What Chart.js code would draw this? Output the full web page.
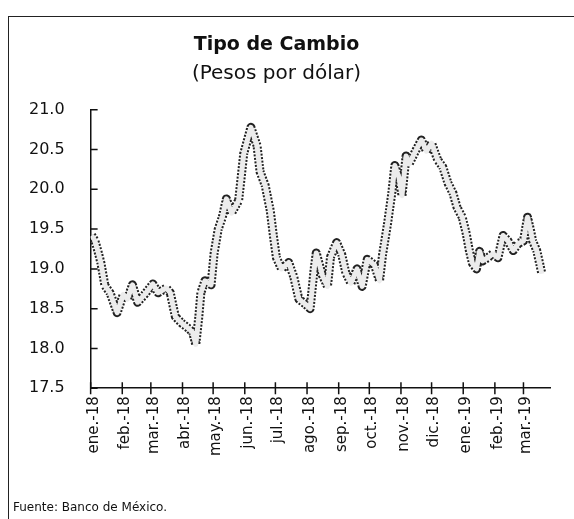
<!DOCTYPE html>
<html>
<head>
<meta charset="utf-8">
<script src="https://cdn.jsdelivr.net/npm/chart.js@4.4.1/dist/chart.umd.min.js"></script>
<style>
  body { margin: 0; background: #fff; }
  #wrap { position: relative; width: 574px; height: 519px; overflow: hidden; }
  #frame { position: absolute; left: 8px; top: 16px; width: 620px; height: 620px;
           border-left: 1.5px solid #222; border-top: 1.5px solid #222; }
  #fuente { position: absolute; left: 13px; top: 500px; font: 12px "DejaVu Sans"; color: #111; }
  canvas { position: absolute; left: 0; top: 0; }
</style>
</head>
<body>
<div id="wrap">
  <div id="frame"></div>
  <canvas id="myChart" width="574" height="519"></canvas>
  <div id="fuente">Fuente: Banco de México.</div>
</div>
<script>
// fechas
const fechas = [
  "2018-01-02","2018-01-05","2018-01-08","2018-01-11","2018-01-15","2018-01-20","2018-01-27",
  "2018-02-02","2018-02-06","2018-02-11","2018-02-16","2018-02-23",
  "2018-03-03","2018-03-08","2018-03-16","2018-03-20","2018-03-25","2018-03-31",
  "2018-04-07","2018-04-11","2018-04-14","2018-04-17","2018-04-19","2018-04-23","2018-04-29",
  "2018-05-02","2018-05-06","2018-05-10","2018-05-14","2018-05-19","2018-05-26","2018-05-31",
  "2018-06-07","2018-06-13","2018-06-16","2018-06-21","2018-06-26","2018-06-29",
  "2018-07-02","2018-07-07","2018-07-14","2018-07-19","2018-07-24","2018-07-31",
  "2018-08-04","2018-08-08","2018-08-10","2018-08-16","2018-08-21","2018-08-24","2018-08-30",
  "2018-09-04","2018-09-08","2018-09-13","2018-09-19","2018-09-24","2018-09-29",
  "2018-10-06","2018-10-11","2018-10-14","2018-10-19","2018-10-23","2018-10-26","2018-10-30",
  "2018-11-02","2018-11-06","2018-11-09","2018-11-16","2018-11-21","2018-11-26",
  "2018-12-01","2018-12-07","2018-12-12","2018-12-17","2018-12-22","2018-12-26","2018-12-31",
  "2019-01-04","2019-01-07","2019-01-10","2019-01-14","2019-01-17","2019-01-20","2019-01-25","2019-01-30",
  "2019-02-04","2019-02-09","2019-02-14","2019-02-19","2019-02-24",
  "2019-03-01","2019-03-05","2019-03-08","2019-03-10","2019-03-14","2019-03-17","2019-03-19"
];
// pesos por dolar
const tipoCambio = [
  19.42,19.36,19.23,19.08,18.79,18.70,18.45,
  18.68,18.62,18.80,18.58,18.68,
  18.81,18.70,18.76,18.70,18.40,18.32,
  18.25,18.20,18.05,18.40,18.70,18.85,18.80,
  19.20,19.50,19.65,19.88,19.70,19.86,20.45,
  20.78,20.55,20.22,20.05,19.73,19.42,
  19.14,19.00,19.08,18.90,18.62,18.55,
  18.50,19.00,19.20,18.92,18.78,19.15,19.33,
  19.18,18.95,18.82,19.00,18.78,19.12,
  19.05,18.85,19.18,19.58,19.95,20.30,20.15,
  19.92,20.42,20.32,20.50,20.62,20.48,
  20.58,20.37,20.28,20.08,19.95,19.77,19.65,
  19.44,19.23,19.07,19.00,19.22,19.10,19.14,19.19,
  19.14,19.42,19.35,19.23,19.32,
  19.35,19.65,19.48,19.35,19.23,19.06,18.94
];
// etiquetas del eje x (inicio de cada mes)
const meses = ["ene.-18","feb.-18","mar.-18","abr.-18","may.-18","jun.-18","jul.-18","ago.-18",
               "sep.-18","oct.-18","nov.-18","dic.-18","ene.-19","feb.-19","mar.-19"];
const inicioMes = ["2018-01-01","2018-02-01","2018-03-01","2018-04-01","2018-05-01","2018-06-01",
                   "2018-07-01","2018-08-01","2018-09-01","2018-10-01","2018-11-01","2018-12-01",
                   "2019-01-01","2019-02-01","2019-03-01"];
const ticksY = [17.5, 18.0, 18.5, 19.0, 19.5, 20.0, 20.5, 21.0];

//Convierto fecha a dias desde el 1 de enero 2018
const dia = (s) => {
  const [y, m, d] = s.split("-").map(Number);
  return (Date.UTC(y, m - 1, d) - Date.UTC(2018, 0, 1)) / 86400000;
};
const puntos = fechas.map((f, i) => ({ x: dia(f), y: tipoCambio[i] }));
const posMes = inicioMes.map(dia);

//Dibujo las marcas de los ejes
const marcas = {
  id: "marcas",
  afterDraw(chart) {
    const { ctx, scales: { x, y } } = chart;
    ctx.save();
    ctx.strokeStyle = "#111";
    ctx.lineWidth = 1.5;
    ctx.beginPath();
    ticksY.forEach((v) => {
      const py = y.getPixelForValue(v);
      ctx.moveTo(x.left, py);
      ctx.lineTo(x.left + 7, py);
    });
    posMes.forEach((d) => {
      const px = x.getPixelForValue(d);
      ctx.moveTo(px, y.bottom - 6);
      ctx.lineTo(px, y.bottom + 6);
    });
    ctx.stroke();
    ctx.restore();
  }
};

const fuente = "'DejaVu Sans', sans-serif";
new Chart(document.getElementById("myChart"), {
  type: "line",
  data: {
    datasets: [
      {
        data: puntos,
        borderColor: "#ececec",
        borderWidth: 5,
        borderJoinStyle: "round",
        pointRadius: 0,
        order: 0
      },
      {
        data: puntos,
        borderColor: "#222",
        borderWidth: 9,
        borderDash: [2, 1.5],
        borderJoinStyle: "round",
        pointRadius: 0,
        order: 1
      }
    ]
  },
  plugins: [marcas],
  options: {
    responsive: false,
    animation: false,
    layout: { padding: { left: 3, right: 24, top: 34, bottom: 55 } },
    plugins: {
      legend: { display: false },
      tooltip: { enabled: false },
      title: {
        display: true,
        text: "Tipo de Cambio",
        color: "#111",
        font: { family: fuente, size: 19, weight: "bold" },
        padding: { top: 0, bottom: 5 }
      },
      subtitle: {
        display: true,
        text: "(Pesos por dólar)",
        color: "#111",
        font: { family: fuente, size: 20 },
        padding: { top: 0, bottom: 24 }
      }
    },
    scales: {
      x: {
        type: "linear",
        min: 0,
        max: 450,
        afterBuildTicks: (axis) => { axis.ticks = posMes.map((v) => ({ value: v })); },
        ticks: {
          autoSkip: false,
          minRotation: 90,
          maxRotation: 90,
          padding: 8,
          labelOffset: 3,
          color: "#111",
          font: { family: fuente, size: 15 },
          callback: (v) => meses[posMes.indexOf(v)]
        },
        grid: { display: false, drawTicks: false },
        border: { display: true, color: "#111", width: 1.5 }
      },
      y: {
        min: 17.5,
        max: 21,
        afterBuildTicks: (axis) => { axis.ticks = ticksY.map((v) => ({ value: v })); },
        ticks: {
          padding: 26,
          color: "#111",
          font: { family: fuente, size: 16 },
          callback: (v) => v.toFixed(1)
        },
        grid: { display: false, drawTicks: false },
        border: { display: true, color: "#111", width: 1.5 }
      }
    }
  }
});
</script>
</body>
</html>
